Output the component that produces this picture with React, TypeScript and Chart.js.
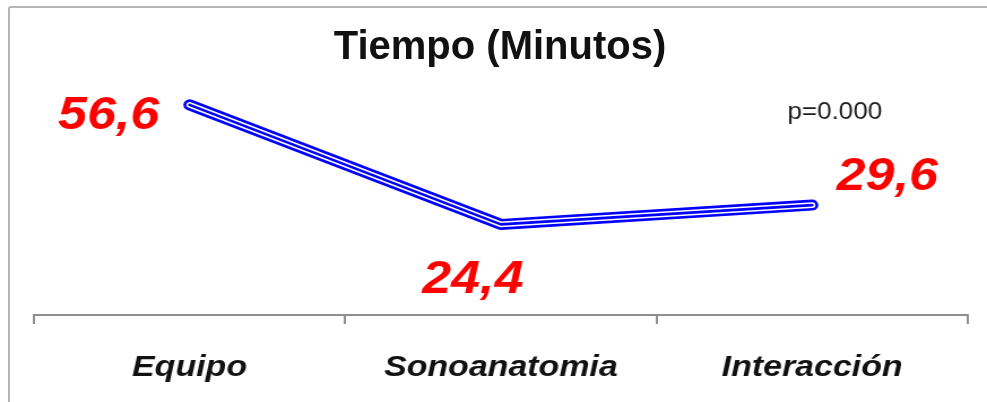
import { useEffect, useRef } from "react";
import { Chart, registerables } from "chart.js";

Chart.register(...registerables);

// Tiempo medio (minutos) por bloque
const categories = ["Equipo", "Sonoanatomia", "Interacción"];
const minutes = [56.6, 24.4, 29.6];
const chartTitle = "Tiempo (Minutos)";
const pValueText = "p=0.000";

const PAGE_W = 987;
const PAGE_H = 402;
// The chart is drawn on a narrower canvas and widened horizontally,
// which gives the wide, stretched lettering of the original slide.
// The canvas runs a little below the page so the axis sits low.
const CANVAS_W = 873;
const CANVAS_H = 429;
const STRETCH = PAGE_W / CANVAS_W;

const FAMILY = "'Liberation Sans', Arial, Helvetica, sans-serif";

// Where each value label sits relative to its point (canvas px)
const labelOffsets = [
  { dx: -71.6, dy: 24 },
  { dx: -24.8, dy: 69 },
  { dx: 66.4, dy: -15 },
];

const formatValue = (v: number) => v.toFixed(1).replace(".", ",");

const valueLabels = {
  id: "valueLabels",
  afterDatasetsDraw(chart: any) {
    const { ctx, chartArea } = chart;
    const meta = chart.getDatasetMeta(0);
    ctx.save();
    ctx.font = `italic bold 46px ${FAMILY}`;
    ctx.fillStyle = "#ff0000";
    ctx.textAlign = "center";
    ctx.textBaseline = "alphabetic";
    meta.data.forEach((pt: any, i: number) => {
      const o = labelOffsets[i];
      ctx.fillText(formatValue(minutes[i]), pt.x + o.dx, pt.y + o.dy);
    });

    // significance note above the last point
    const xs = chart.scales.x;
    ctx.font = `23px ${FAMILY}`;
    ctx.fillStyle = "#1a1a1a";
    ctx.fillText(pValueText, xs.getPixelForValue(2) + 20, chartArea.top + 101);
    ctx.restore();
  },
};

export default function App() {
  const canvasRef = useRef<HTMLCanvasElement | null>(null);

  useEffect(() => {
    const canvas = canvasRef.current;
    if (!canvas) return;
    const lineBase = {
      data: minutes,
      pointRadius: 0,
      tension: 0,
      borderCapStyle: "round" as const,
      borderJoinStyle: "round" as const,
      fill: false,
    };
    // Double-stroke line: thick blue underneath, white gap, thin blue core.
    // Chart.js paints the first dataset on top, so the core comes first.
    const chart = new Chart(canvas, {
      type: "line",
      data: {
        labels: categories,
        datasets: [
          { ...lineBase, borderColor: "#0000ff", borderWidth: 2.6 },
          { ...lineBase, borderColor: "#ffffff", borderWidth: 5.6 },
          { ...lineBase, borderColor: "#0000ff", borderWidth: 11 },
        ],
      },
      options: {
        responsive: false,
        animation: false,
        devicePixelRatio: 1,
        layout: { padding: { left: 30, right: 17, top: 18, bottom: 17 } },
        plugins: {
          legend: { display: false },
          title: { display: false },
          tooltip: { enabled: false },
        },
        scales: {
          x: {
            offset: true,
            grid: {
              offset: true,
              drawOnChartArea: false,
              tickLength: 9,
              color: "#8f8f8f",
              lineWidth: 2,
            },
            border: { color: "#8f8f8f", width: 2 },
            ticks: {
              color: "#111111",
              padding: 26,
              font: { family: FAMILY, size: 30, weight: "bold", style: "italic" },
            },
          },
          y: { display: false, min: 0, max: 80 },
        },
      },
      plugins: [valueLabels],
    });
    return () => chart.destroy();
  }, []);

  return (
    <div
      style={{
        position: "fixed",
        left: 0,
        top: 0,
        width: PAGE_W,
        height: PAGE_H,
        background: "#ffffff",
        overflow: "hidden",
      }}
    >
      <div
        style={{
          position: "absolute",
          left: 0,
          top: 0,
          width: CANVAS_W,
          height: CANVAS_H,
          transform: `scaleX(${STRETCH})`,
          transformOrigin: "0 0",
        }}
      >
        <canvas
          ref={canvasRef}
          width={CANVAS_W}
          height={CANVAS_H}
          style={{ display: "block", width: CANVAS_W, height: CANVAS_H }}
        />
      </div>
      <div
        style={{
          position: "absolute",
          left: 8,
          top: 6,
          width: 1000,
          height: 440,
          borderLeft: "2px solid #b5b5b5",
          borderTop: "2px solid #b5b5b5",
          borderTopLeftRadius: 3,
          pointerEvents: "none",
        }}
      />
      <div
        style={{
          position: "absolute",
          left: 13,
          top: 25,
          width: 974,
          textAlign: "center",
          font: `bold 40px ${FAMILY}`,
          lineHeight: "40px",
          color: "#111111",
          whiteSpace: "nowrap",
        }}
      >
        {chartTitle}
      </div>
    </div>
  );
}
